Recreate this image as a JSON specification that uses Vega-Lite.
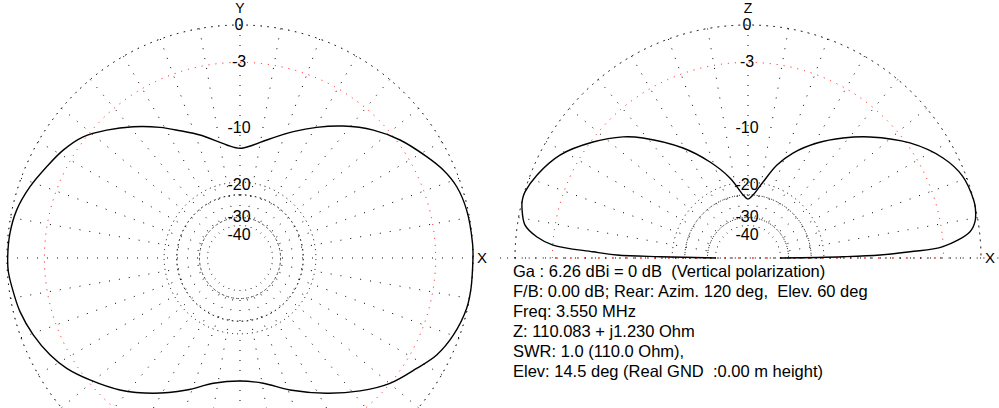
{
  "$schema": "https://vega.github.io/schema/vega-lite/v6.json",
  "padding": 0,
  "spacing": 0,
  "background": "white",
  "config": {
    "view": {"stroke": null},
    "axis": {"disable": true},
    "legend": {"disable": true},
    "text": {"font": "Liberation Sans"},
    "concat": {"spacing": 0}
  },
  "datasets": {
    "rings": [
      {"db": 0, "label": "0"},
      {"db": -3, "label": "-3"},
      {"db": -10, "label": "-10"},
      {"db": -20, "label": "-20"},
      {"db": -30, "label": "-30"},
      {"db": -40, "label": "-40"},
      {"db": -50, "label": ""}
    ],
    "spokesL": [
      {"a": 0}, {"a": 10}, {"a": 20}, {"a": 30}, {"a": 40}, {"a": 50}, {"a": 60}, {"a": 70}, {"a": 80},
      {"a": 90}, {"a": 100}, {"a": 110}, {"a": 120}, {"a": 130}, {"a": 140}, {"a": 150}, {"a": 160}, {"a": 170},
      {"a": 180}, {"a": 190}, {"a": 200}, {"a": 210}, {"a": 220}, {"a": 230}, {"a": 240}, {"a": 250}, {"a": 260},
      {"a": 270}, {"a": 280}, {"a": 290}, {"a": 300}, {"a": 310}, {"a": 320}, {"a": 330}, {"a": 340}, {"a": 350}
    ],
    "spokesR": [
      {"a": 0}, {"a": 10}, {"a": 20}, {"a": 30}, {"a": 40}, {"a": 50}, {"a": 60}, {"a": 70}, {"a": 80},
      {"a": 90}, {"a": 100}, {"a": 110}, {"a": 120}, {"a": 130}, {"a": 140}, {"a": 150}, {"a": 160}, {"a": 170},
      {"a": 180}
    ],
    "azimuth": [
      {"a": 0, "db": 0}, {"a": 3.6, "db": 0}, {"a": 12, "db": -0.1}, {"a": 18.2, "db": -0.36},
      {"a": 23.4, "db": -0.87}, {"a": 28.5, "db": -1.59}, {"a": 36.4, "db": -2.72}, {"a": 43.8, "db": -3.98},
      {"a": 51.95, "db": -5.66}, {"a": 59.6, "db": -7.39}, {"a": 67.1, "db": -9.1}, {"a": 77.25, "db": -11.25},
      {"a": 83.3, "db": -12.3}, {"a": 90, "db": -12.93}, {"a": 96.7, "db": -12.3}, {"a": 108, "db": -10.1},
      {"a": 115.2, "db": -8.66}, {"a": 121.5, "db": -7.19}, {"a": 129.1, "db": -5.49}, {"a": 136.2, "db": -3.98},
      {"a": 142.3, "db": -2.78}, {"a": 148.6, "db": -2.02}, {"a": 154.7, "db": -1.48}, {"a": 161.25, "db": -0.85},
      {"a": 167.9, "db": -0.34}, {"a": 173.9, "db": -0.12}, {"a": 180, "db": -0.05}, {"a": 183.4, "db": -0.07},
      {"a": 188.5, "db": -0.28}, {"a": 193.7, "db": -0.49}, {"a": 200.4, "db": -0.94}, {"a": 207, "db": -1.52},
      {"a": 212.5, "db": -2.16}, {"a": 219.1, "db": -3.2}, {"a": 227.7, "db": -4.58}, {"a": 237.35, "db": -6.38},
      {"a": 248, "db": -8.46}, {"a": 258, "db": -10.27}, {"a": 270, "db": -10.97}, {"a": 280.5, "db": -10.36},
      {"a": 290.75, "db": -8.6}, {"a": 302.65, "db": -6.38}, {"a": 312.1, "db": -4.51}, {"a": 320.1, "db": -3.02},
      {"a": 328, "db": -1.92}, {"a": 333.75, "db": -1.04}, {"a": 340.1, "db": -0.46}, {"a": 347.5, "db": -0.06},
      {"a": 352.5, "db": 0}, {"a": 360, "db": 0}
    ],
    "elevation": [
      {"a": 0, "db": -34}, {"a": 0.78, "db": -15.4}, {"a": 1.3, "db": -9.75}, {"a": 2.23, "db": -6.22},
      {"a": 3.32, "db": -3.03}, {"a": 6.76, "db": -0.71}, {"a": 9.1, "db": -0.23}, {"a": 12.3, "db": -0.02},
      {"a": 14.5, "db": 0}, {"a": 20.9, "db": -0.25}, {"a": 27.15, "db": -1.05}, {"a": 35.4, "db": -2.74},
      {"a": 44.8, "db": -5.23}, {"a": 51.6, "db": -7.21}, {"a": 59, "db": -9.48}, {"a": 66.8, "db": -12.24},
      {"a": 72.7, "db": -14.97}, {"a": 78.8, "db": -18.9}, {"a": 85.5, "db": -22.4}, {"a": 90, "db": -23.6},
      {"a": 94.3, "db": -22.4}, {"a": 102.7, "db": -17.9}, {"a": 111.6, "db": -13.97}, {"a": 120.6, "db": -10.31},
      {"a": 131.2, "db": -6.5}, {"a": 135.9, "db": -5.0}, {"a": 143.2, "db": -3.18}, {"a": 151.3, "db": -1.43},
      {"a": 158.5, "db": -0.47}, {"a": 163.5, "db": -0.03}, {"a": 165.5, "db": 0}, {"a": 167.5, "db": -0.11},
      {"a": 171.6, "db": -0.57}, {"a": 174.3, "db": -1.62}, {"a": 176.2, "db": -3.02}, {"a": 177.7, "db": -6.98},
      {"a": 178.7, "db": -9.88}, {"a": 179.15, "db": -16.7}, {"a": 180, "db": -34}
    ]
  },
  "hconcat": [
    {
      "width": 494,
      "height": 408,
      "layer": [
        {
          "data": {"name": "rings"},
          "transform": [{"filter": "datum.db == 0 || datum.db == -10 || datum.db == -20"}, {"calculate": "pow(0.89, -datum.db/2)", "as": "r"}],
          "mark": {"type": "arc", "filled": false, "clip": true, "theta": 0, "theta2": 6.2832, "strokeWidth": 1, "stroke": "#000000", "strokeDash": [1, 6]},
          "encoding": {
            "x": {"datum": 0, "type": "quantitative", "scale": {"domain": [-1.03004, 1.09013], "nice": false, "zero": false}},
            "y": {"datum": 0, "type": "quantitative", "scale": {"domain": [-0.64378, 1.1073], "nice": false, "zero": false}},
            "radius": {"field": "r", "type": "quantitative", "scale": {"type": "linear", "domain": [0, 1], "range": [0, 233], "zero": true, "nice": false}}
          }
        },
        {
          "data": {"name": "rings"},
          "transform": [{"filter": "datum.db == -3"}, {"calculate": "pow(0.89, -datum.db/2)", "as": "r"}],
          "mark": {"type": "arc", "filled": false, "clip": true, "theta": 0, "theta2": 6.2832, "strokeWidth": 1, "stroke": "#ff0000", "strokeDash": [1, 6]},
          "encoding": {
            "x": {"datum": 0, "type": "quantitative", "scale": {"domain": [-1.03004, 1.09013], "nice": false, "zero": false}},
            "y": {"datum": 0, "type": "quantitative", "scale": {"domain": [-0.64378, 1.1073], "nice": false, "zero": false}},
            "radius": {"field": "r", "type": "quantitative", "scale": {"type": "linear", "domain": [0, 1], "range": [0, 233], "zero": true, "nice": false}}
          }
        },
        {
          "data": {"name": "rings"},
          "transform": [{"filter": "datum.db <= -30"}, {"calculate": "pow(0.89, -datum.db/2)", "as": "r"}],
          "mark": {"type": "arc", "filled": false, "clip": true, "theta": 0, "theta2": 6.2832, "strokeWidth": 1, "stroke": "#000000", "strokeDash": [1, 4]},
          "encoding": {
            "x": {"datum": 0, "type": "quantitative", "scale": {"domain": [-1.03004, 1.09013], "nice": false, "zero": false}},
            "y": {"datum": 0, "type": "quantitative", "scale": {"domain": [-0.64378, 1.1073], "nice": false, "zero": false}},
            "radius": {"field": "r", "type": "quantitative", "scale": {"type": "linear", "domain": [0, 1], "range": [0, 233], "zero": true, "nice": false}}
          }
        },
        {
          "data": {"name": "spokesL"},
          "transform": [
            {"calculate": "cos(datum.a*PI/180)", "as": "xo"},
            {"calculate": "sin(datum.a*PI/180)", "as": "yo"},
            {"calculate": "pow(0.89, 17)*cos(datum.a*PI/180)", "as": "xi"},
            {"calculate": "pow(0.89, 17)*sin(datum.a*PI/180)", "as": "yi"}
          ],
          "mark": {"type": "rule", "clip": true, "color": "#000000", "strokeWidth": 1, "strokeDash": [1, 9]},
          "encoding": {
            "x": {"field": "xo", "type": "quantitative", "scale": {"domain": [-1.03004, 1.09013], "nice": false, "zero": false}},
            "y": {"field": "yo", "type": "quantitative", "scale": {"domain": [-0.64378, 1.1073], "nice": false, "zero": false}},
            "x2": {"field": "xi"},
            "y2": {"field": "yi"}
          }
        },
        {
          "data": {"name": "azimuth"},
          "transform": [
            {"calculate": "pow(0.89, -datum.db/2)", "as": "r"},
            {"calculate": "datum.r*cos(datum.a*PI/180)", "as": "px"},
            {"calculate": "datum.r*sin(datum.a*PI/180)", "as": "py"}
          ],
          "mark": {"type": "line", "clip": true, "color": "#000000", "strokeWidth": 1.4, "interpolate": "catmull-rom"},
          "encoding": {
            "x": {"field": "px", "type": "quantitative", "scale": {"domain": [-1.03004, 1.09013], "nice": false, "zero": false}},
            "y": {"field": "py", "type": "quantitative", "scale": {"domain": [-0.64378, 1.1073], "nice": false, "zero": false}},
            "order": {"field": "a", "type": "quantitative"}
          }
        },
        {
          "data": {"name": "rings"},
          "transform": [{"filter": "datum.db > -50"}, {"calculate": "pow(0.89, -datum.db/2)", "as": "r"}],
          "mark": {"type": "text", "fontSize": 16, "align": "center", "baseline": "middle", "color": "#000000", "dx": -1},
          "encoding": {
            "x": {"datum": 0, "type": "quantitative", "scale": {"domain": [-1.03004, 1.09013], "nice": false, "zero": false}},
            "y": {"field": "r", "type": "quantitative", "scale": {"domain": [-0.64378, 1.1073], "nice": false, "zero": false}},
            "text": {"field": "label"}
          }
        },
        {
          "data": {"values": [{"t": "Y"}]},
          "mark": {"type": "text", "fontSize": 14, "align": "center", "baseline": "middle", "color": "#000000", "dy": -16},
          "encoding": {
            "x": {"datum": 0, "type": "quantitative", "scale": {"domain": [-1.03004, 1.09013], "nice": false, "zero": false}},
            "y": {"datum": 1, "type": "quantitative", "scale": {"domain": [-0.64378, 1.1073], "nice": false, "zero": false}},
            "text": {"field": "t"}
          }
        },
        {
          "data": {"values": [{"t": "X"}]},
          "mark": {"type": "text", "fontSize": 15, "align": "center", "baseline": "middle", "color": "#000000", "dx": 9},
          "encoding": {
            "x": {"datum": 1, "type": "quantitative", "scale": {"domain": [-1.03004, 1.09013], "nice": false, "zero": false}},
            "y": {"datum": 0, "type": "quantitative", "scale": {"domain": [-0.64378, 1.1073], "nice": false, "zero": false}},
            "text": {"field": "t"}
          }
        }
      ]
    },
    {
      "width": 505,
      "height": 408,
      "resolve": {"scale": {"y": "independent"}},
      "layer": [
        {
          "data": {"name": "rings"},
          "transform": [{"filter": "datum.db == 0 || datum.db == -10 || datum.db == -20"}, {"calculate": "pow(0.89, -datum.db/2)", "as": "r"}],
          "mark": {"type": "arc", "filled": false, "clip": true, "theta": -1.5708, "theta2": 1.5708, "strokeWidth": 1, "stroke": "#000000", "strokeDash": [1, 6]},
          "encoding": {
            "x": {"datum": 0, "type": "quantitative", "scale": {"domain": [-1.09013, 1.07725], "nice": false, "zero": false}},
            "y": {"datum": 0, "type": "quantitative", "scale": {"domain": [-0.64378, 1.1073], "nice": false, "zero": false}},
            "radius": {"field": "r", "type": "quantitative", "scale": {"type": "linear", "domain": [0, 1], "range": [0, 233], "zero": true, "nice": false}}
          }
        },
        {
          "data": {"name": "rings"},
          "transform": [{"filter": "datum.db == -3"}, {"calculate": "pow(0.89, -datum.db/2)", "as": "r"}],
          "mark": {"type": "arc", "filled": false, "clip": true, "theta": -1.5708, "theta2": 1.5708, "strokeWidth": 1, "stroke": "#ff0000", "strokeDash": [1, 6]},
          "encoding": {
            "x": {"datum": 0, "type": "quantitative", "scale": {"domain": [-1.09013, 1.07725], "nice": false, "zero": false}},
            "y": {"datum": 0, "type": "quantitative", "scale": {"domain": [-0.64378, 1.1073], "nice": false, "zero": false}},
            "radius": {"field": "r", "type": "quantitative", "scale": {"type": "linear", "domain": [0, 1], "range": [0, 233], "zero": true, "nice": false}}
          }
        },
        {
          "data": {"name": "rings"},
          "transform": [{"filter": "datum.db <= -30"}, {"calculate": "pow(0.89, -datum.db/2)", "as": "r"}],
          "mark": {"type": "arc", "filled": false, "clip": true, "theta": -1.5708, "theta2": 1.5708, "strokeWidth": 1, "stroke": "#000000", "strokeDash": [1, 4]},
          "encoding": {
            "x": {"datum": 0, "type": "quantitative", "scale": {"domain": [-1.09013, 1.07725], "nice": false, "zero": false}},
            "y": {"datum": 0, "type": "quantitative", "scale": {"domain": [-0.64378, 1.1073], "nice": false, "zero": false}},
            "radius": {"field": "r", "type": "quantitative", "scale": {"type": "linear", "domain": [0, 1], "range": [0, 233], "zero": true, "nice": false}}
          }
        },
        {
          "data": {"name": "spokesR"},
          "transform": [
            {"calculate": "cos(datum.a*PI/180)", "as": "xo"},
            {"calculate": "sin(datum.a*PI/180)", "as": "yo"},
            {"calculate": "pow(0.89, 17)*cos(datum.a*PI/180)", "as": "xi"},
            {"calculate": "pow(0.89, 17)*sin(datum.a*PI/180)", "as": "yi"}
          ],
          "mark": {"type": "rule", "clip": true, "color": "#000000", "strokeWidth": 1, "strokeDash": [1, 9]},
          "encoding": {
            "x": {"field": "xo", "type": "quantitative", "scale": {"domain": [-1.09013, 1.07725], "nice": false, "zero": false}},
            "y": {"field": "yo", "type": "quantitative", "scale": {"domain": [-0.64378, 1.1073], "nice": false, "zero": false}},
            "x2": {"field": "xi"},
            "y2": {"field": "yi"}
          }
        },
        {
          "data": {"name": "elevation"},
          "transform": [
            {"calculate": "pow(0.89, -datum.db/2)", "as": "r"},
            {"calculate": "datum.r*cos(datum.a*PI/180)", "as": "px"},
            {"calculate": "datum.r*sin(datum.a*PI/180)", "as": "py"}
          ],
          "mark": {"type": "line", "clip": true, "color": "#000000", "strokeWidth": 1.4, "interpolate": "catmull-rom"},
          "encoding": {
            "x": {"field": "px", "type": "quantitative", "scale": {"domain": [-1.09013, 1.07725], "nice": false, "zero": false}},
            "y": {"field": "py", "type": "quantitative", "scale": {"domain": [-0.64378, 1.1073], "nice": false, "zero": false}},
            "order": {"field": "a", "type": "quantitative"}
          }
        },
        {
          "data": {"name": "rings"},
          "transform": [{"filter": "datum.db > -50"}, {"calculate": "pow(0.89, -datum.db/2)", "as": "r"}],
          "mark": {"type": "text", "fontSize": 16, "align": "center", "baseline": "middle", "color": "#000000", "dx": -1},
          "encoding": {
            "x": {"datum": 0, "type": "quantitative", "scale": {"domain": [-1.09013, 1.07725], "nice": false, "zero": false}},
            "y": {"field": "r", "type": "quantitative", "scale": {"domain": [-0.64378, 1.1073], "nice": false, "zero": false}},
            "text": {"field": "label"}
          }
        },
        {
          "data": {"values": [{"t": "Z"}]},
          "mark": {"type": "text", "fontSize": 14, "align": "center", "baseline": "middle", "color": "#000000", "dy": -16},
          "encoding": {
            "x": {"datum": 0, "type": "quantitative", "scale": {"domain": [-1.09013, 1.07725], "nice": false, "zero": false}},
            "y": {"datum": 1, "type": "quantitative", "scale": {"domain": [-0.64378, 1.1073], "nice": false, "zero": false}},
            "text": {"field": "t"}
          }
        },
        {
          "data": {"values": [{"t": "X"}]},
          "mark": {"type": "text", "fontSize": 15, "align": "center", "baseline": "middle", "color": "#000000", "dx": 9},
          "encoding": {
            "x": {"datum": 1, "type": "quantitative", "scale": {"domain": [-1.09013, 1.07725], "nice": false, "zero": false}},
            "y": {"datum": 0, "type": "quantitative", "scale": {"domain": [-0.64378, 1.1073], "nice": false, "zero": false}},
            "text": {"field": "t"}
          }
        },
        {
          "data": {"values": [
            {"line": 1, "t": "Ga : 6.26 dBi = 0 dB \u00a0(Vertical polarization)"},
            {"line": 2, "t": "F/B: 0.00 dB; Rear: Azim. 120 deg, \u00a0Elev. 60 deg"},
            {"line": 3, "t": "Freq: 3.550 MHz"},
            {"line": 4, "t": "Z: 110.083 + j1.230 Ohm"},
            {"line": 5, "t": "SWR: 1.0 (110.0 Ohm),"},
            {"line": 6, "t": "Elev: 14.5 deg (Real GND \u00a0:0.00 m height)"}
          ]},
          "mark": {"type": "text", "fontSize": 16.5, "align": "left", "baseline": "middle", "color": "#000000", "dx": -2},
          "encoding": {
            "x": {"datum": -1, "type": "quantitative", "scale": {"domain": [-1.09013, 1.07725], "nice": false, "zero": false}},
            "y": {"field": "line", "type": "quantitative", "scale": {"domain": [-12.575, 7.825], "range": [0, 408], "nice": false, "zero": false}},
            "text": {"field": "t"}
          }
        }
      ]
    }
  ]
}
